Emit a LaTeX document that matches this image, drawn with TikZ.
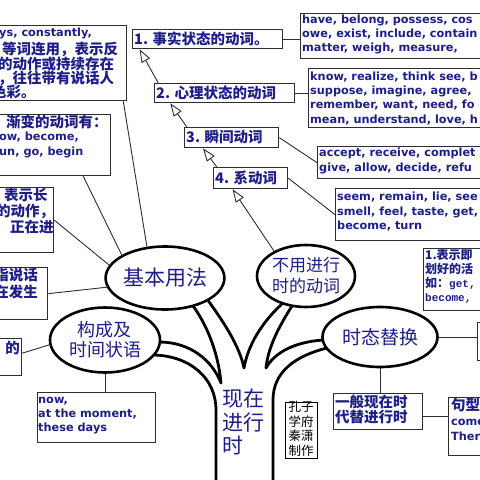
\documentclass[tikz,border=0pt]{standalone}
\usepackage{fontspec}
\setmainfont{DejaVu Sans}
\newfontfamily\cjk{Noto Sans CJK SC}
\newfontfamily\latf{DejaVu Sans}
\newfontfamily\monof{Liberation Mono}
\usetikzlibrary{shapes.geometric,arrows.meta,calc}
\definecolor{txt}{RGB}{30,30,135}
\definecolor{bd}{RGB}{45,45,55}
\begin{document}
\begin{tikzpicture}[x=1pt,y=-1pt,
 box/.style={draw=bd, line width=1.3pt, inner sep=0pt, anchor=north west},
 ell/.style={ellipse, draw=black, fill=white, line width=2.6pt, inner sep=0pt, text=txt, align=center},
 lt/.style={font=\latf\bfseries\fontsize{11.3}{13}\selectfont, text=txt, inner sep=0pt, anchor=west, text height=8.5pt, text depth=1.5pt},
 ct/.style={font=\cjk\bfseries\fontsize{14.5}{16}\selectfont, text=txt, inner sep=0pt, anchor=west, text height=12pt, text depth=1pt},
 cts/.style={font=\cjk\bfseries\fontsize{12}{14}\selectfont, text=txt, inner sep=0pt, anchor=west, text height=10pt, text depth=1pt},
 con/.style={draw=bd, line width=0.9pt},
 arr/.style={draw=bd, line width=0.9pt, -{Triangle[open, length=13pt, width=9.5pt]}},
 trunk/.style={draw=black, line width=2.8pt, line cap=round, line join=round}
]
\useasboundingbox (0,0) rectangle (480,480);
\fill[white] (0,0) rectangle (480,480);
\clip (0,0) rectangle (480,480);

% ---- trunk and branches
\draw[trunk] (154,355) .. controls (190,356) and (216,378) .. (216,410) -- (216,485);
\draw[trunk] (159,342) .. controls (190,342) and (212,360) .. (221,383) .. controls (218,350) and (205,322) .. (193,306);
\draw[trunk] (207,299) .. controls (226,325) and (240,348) .. (244,368) .. controls (248,345) and (262,322) .. (283,303);
\draw[trunk] (292,306) .. controls (278,328) and (268,348) .. (266,368) .. controls (275,352) and (295,342) .. (323,340);
\draw[trunk] (327,348) .. controls (295,356) and (273,372) .. (273,400) -- (273,485);

% ---- ellipses
\node[ell, minimum width=113pt, minimum height=63pt, font=\cjk\fontsize{21}{24}\selectfont] (jb) at (165,278) {基本用法};
\node[ell, minimum width=110pt, minimum height=65pt, font=\cjk\fontsize{18}{20}\selectfont] (gc) at (105,340) {构成及\\时间状语};
\node[ell, minimum width=98pt, minimum height=62pt, font=\cjk\fontsize{17}{21}\selectfont] (by) at (306,276) {不用进行\\时的动词};
\node[ell, minimum width=115pt, minimum height=60pt, font=\cjk\fontsize{19}{22}\selectfont] (st) at (380,337) {时态替换};

% ---- trunk label
\node[anchor=north west, inner sep=0pt, align=left, text=txt, font=\cjk\fontsize{21}{23.5}\selectfont] (zx) at (222,389) {现在\\进行\\时};

% ---- boxes
\node[box, minimum width=186pt, minimum height=75pt] (tl) at (-60,25) {};
\node[box, minimum width=150pt, minimum height=19pt] (b1) at (132,29) {};
\node[box, minimum width=140pt, minimum height=19pt] (b2) at (154,83) {};
\node[box, minimum width=94pt, minimum height=20pt] (b3) at (184,127) {};
\node[box, minimum width=74pt, minimum height=21pt] (b4) at (213,167) {};
\node[box, minimum width=200pt, minimum height=45pt] (A) at (300,13) {};
\node[box, minimum width=200pt, minimum height=59pt] (B) at (308,68) {};
\node[box, minimum width=200pt, minimum height=32pt] (C) at (317,146) {};
\node[box, minimum width=200pt, minimum height=52pt] (D) at (335,188) {};
\node[box, minimum width=170pt, minimum height=61pt] (E) at (-60,114) {};
\node[box, minimum width=113pt, minimum height=65pt] (F) at (-60,187) {};
\node[box, minimum width=107pt, minimum height=52pt] (G) at (-60,267) {};
\node[box, minimum width=81pt, minimum height=37pt] (H) at (-60,338) {};
\node[box, minimum width=118pt, minimum height=50pt] (nw) at (37,392) {};
\node[box, minimum width=80pt, minimum height=62pt] (K) at (423,248) {};
\node[box, minimum width=30pt, minimum height=38pt] (L) at (477,322) {};
\node[box, minimum width=89pt, minimum height=36pt] (M) at (333,393) {};
\node[box, minimum width=60pt, minimum height=58pt] (N) at (448,397) {};
\node[box, draw=black, line width=1pt, minimum width=32pt, minimum height=56pt] (W) at (285,402) {};

% ---- box texts
\node[lt] (t1) at (-1,33) {ys, constantly,};
\node[ct] (t2) at (2,49) {等词连用，表示反};
\node[ct] (t3) at (-2,63.5) {的动作或持续存在};
\node[ct] (t4) at (-2,78) {，往往带有说话人};
\node[ct] (t5) at (-8,92) {色彩。};

\node[ct] (b1t) at (134,38.5) {1. 事实状态的动词。};
\node[ct] (b2t) at (156,92.5) {2. 心理状态的动词};
\node[ct] (b3t) at (186,137) {3. 瞬间动词};
\node[ct] (b4t) at (215,177.5) {4. 系动词};

\node[lt] (a1) at (302,19.5) {have, belong, possess, cos};
\node[lt] (a2) at (302,33.5) {owe, exist, include, contain};
\node[lt] (a3) at (302,47.5) {matter, weigh, measure,};

\node[lt] (k1) at (310,77) {know, realize, think see, b};
\node[lt] (k2) at (310,91) {suppose, imagine, agree,};
\node[lt] (k3) at (310,105) {remember, want, need, fo};
\node[lt] (k4) at (310,119.5) {mean, understand, love, h};

\node[lt] (c1) at (319,153) {accept, receive, complet};
\node[lt] (c2) at (319,167.5) {give, allow, decide, refu};

\node[lt] (d1) at (337,197) {seem, remain, lie, see};
\node[lt] (d2) at (337,211.5) {smell, feel, taste, get,};
\node[lt] (d3) at (337,225.5) {become, turn};

\node[ct] (e1) at (6,122) {渐变的动词有：};
\node[lt] (e2) at (-1,137) {ow, become,};
\node[lt] (e3) at (-1,152) {un, go, begin};

\node[ct] (f1) at (4,195) {表示长};
\node[ct] (f2) at (-4,211) {的动作，};
\node[ct] (f3) at (10,227) {正在进};

\node[ct, anchor=east] (g1) at (38,275) {指说话};
\node[ct, anchor=east] (g2) at (38,292) {在发生};

\node[ct, anchor=east] (h1) at (20,348) {的};

\node[lt] (n1) at (38,400) {now,};
\node[lt] (n2) at (38,414) {at the moment,};
\node[lt] (n3) at (38,428) {these days};

\node[cts] (q1) at (425,255) {1.表示即};
\node[cts] (q2) at (425,268.5) {划好的活};
\node[cts] (q3) at (425,283) {如：{\monof\bfseries\fontsize{11}{13}\selectfont get,}};
\node[cts, font=\monof\bfseries\fontsize{11}{13}\selectfont] (q4) at (425,297) {become,};

\node[ct] (m1) at (335,402) {一般现在时};
\node[ct] (m2) at (335,417) {代替进行时};

\node[ct] (p1) at (451,405) {句型};
\node[lt] (p2) at (451,421.5) {come};
\node[lt] (p3) at (451,436.5) {Ther};

\node[align=center, inner sep=0pt, text=black, font=\cjk\fontsize{12.5}{14.5}\selectfont] (wt) at (301,429) {孔子\\学府\\秦潇\\制作};

% ---- connectors
\draw[con] ($(tl.south east)+(-4,0)$) -- (jb.120);
\draw[con] ($(E.south east)+(-28,0)$) -- (jb.152);
\draw[con] (F.east) -- (jb.167);
\draw[con] (G.east) -- (jb.189);
\draw[con] ([yshift=4pt]H.east) -- (gc.185);
\draw[con] (gc.south) -- (gc.south |- nw.north);
\draw[arr] ($(b2.north west)!0.03!(b2.north east)$) -- ($(b1.south west)!0.05!(b1.south east)$);
\draw[arr] ($(b3.north west)!0.03!(b3.north east)$) -- ($(b2.south west)!0.115!(b2.south east)$);
\draw[arr] ($(b4.north west)!0.05!(b4.north east)$) -- ($(b3.south west)!0.2!(b3.south east)$);
\draw[arr] (by.142) -- ($(b4.south west)!0.26!(b4.south east)$);
\draw[con] (b1.east) -- (b1.east -| A.west);
\draw[con] (b2.east) -- (b2.east -| B.west);
\draw[con] (b3.east) -- (C.west);
\draw[con] (b4.east) -- (D.west);
\draw[con] (st.east) -- (st.east -| L.west);
\draw[con] (st.south) -- (st.south |- M.north);
\draw[con] ([yshift=-5pt]M.east) -- ([yshift=-5pt]M.east -| N.west);
\end{tikzpicture}
\end{document}
